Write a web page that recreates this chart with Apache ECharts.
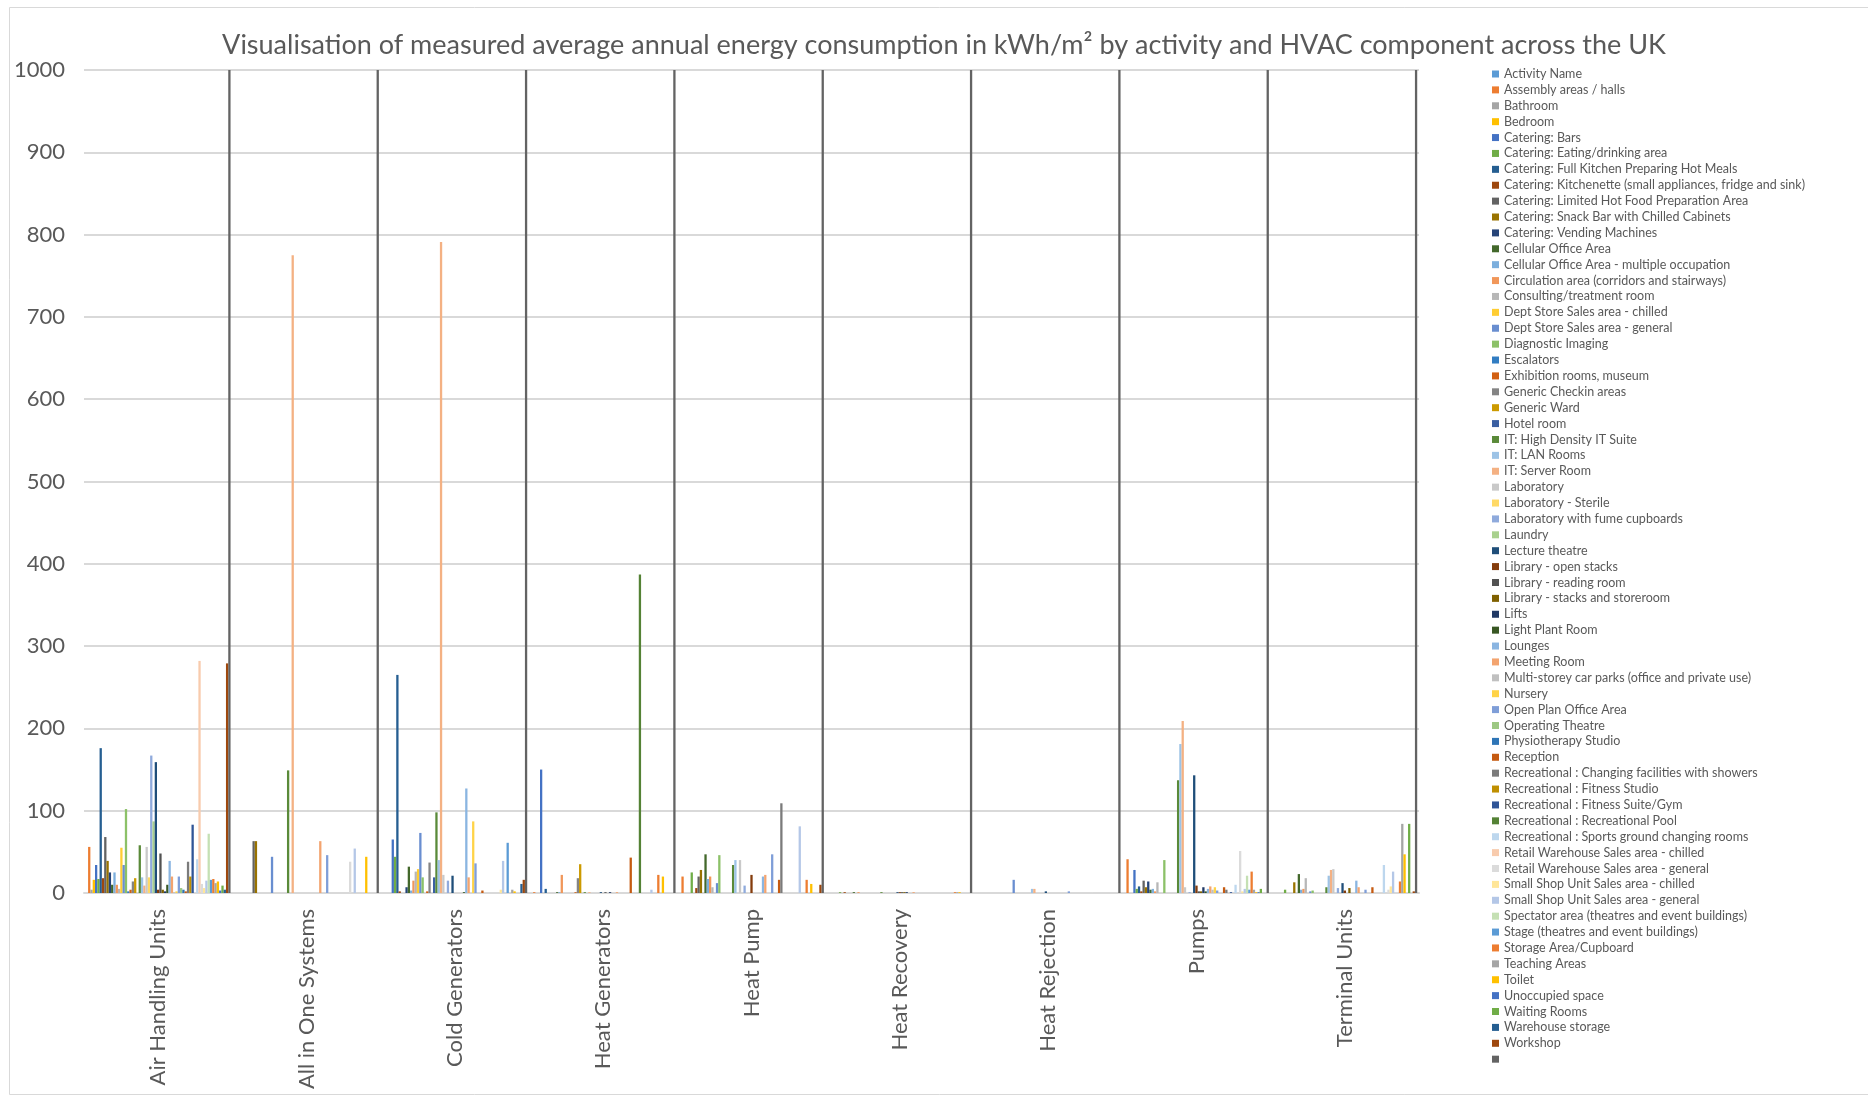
<!DOCTYPE html>
<html>
<head>
<meta charset="utf-8">
<script src="https://cdn.jsdelivr.net/npm/echarts@6/dist/echarts.min.js"></script>
<style>
  html, body { margin: 0; padding: 0; background: #fff; }
  #chart { width: 1868px; height: 1097px; }
</style>
</head>
<body>
<div id="chart"></div>
<script>
// HVAC components (x-axis categories)
const components = [
  'Air Handling Units', 'All in One Systems', 'Cold Generators', 'Heat Generators',
  'Heat Pump', 'Heat Recovery', 'Heat Rejection', 'Pumps', 'Terminal Units'
];

// Activity types (one bar series each); the last one has no name
const activities = [
  'Activity Name', 'Assembly areas / halls', 'Bathroom', 'Bedroom', 'Catering: Bars',
  'Catering: Eating/drinking area', 'Catering: Full Kitchen Preparing Hot Meals',
  'Catering: Kitchenette (small appliances, fridge and sink)',
  'Catering: Limited Hot Food Preparation Area', 'Catering: Snack Bar with Chilled Cabinets',
  'Catering: Vending Machines', 'Cellular Office Area', 'Cellular Office Area - multiple occupation',
  'Circulation area (corridors and stairways)', 'Consulting/treatment room',
  'Dept Store Sales area - chilled', 'Dept Store Sales area - general', 'Diagnostic Imaging',
  'Escalators', 'Exhibition rooms, museum', 'Generic Checkin areas', 'Generic Ward', 'Hotel room',
  'IT: High Density IT Suite', 'IT: LAN Rooms', 'IT: Server Room', 'Laboratory',
  'Laboratory - Sterile', 'Laboratory with fume cupboards', 'Laundry', 'Lecture theatre',
  'Library - open stacks', 'Library - reading room', 'Library - stacks and storeroom', 'Lifts',
  'Light Plant Room', 'Lounges', 'Meeting Room', 'Multi-storey car parks (office and private use)',
  'Nursery', 'Open Plan Office Area', 'Operating Theatre', 'Physiotherapy Studio', 'Reception',
  'Recreational : Changing facilities with showers', 'Recreational : Fitness Studio',
  'Recreational : Fitness Suite/Gym', 'Recreational : Recreational Pool',
  'Recreational : Sports ground changing rooms', 'Retail Warehouse Sales area - chilled',
  'Retail Warehouse Sales area - general', 'Small Shop Unit Sales area - chilled',
  'Small Shop Unit Sales area - general', 'Spectator area (theatres and event buildings)',
  'Stage (theatres and event buildings)', 'Storage Area/Cupboard', 'Teaching Areas', 'Toilet',
  'Unoccupied space', 'Waiting Rooms', 'Warehouse storage', 'Workshop', ' '
];

// Office-style series colour cycle (54 entries, then repeats)
const palette = [
  '#5B9BD5', '#ED7D31', '#A5A5A5', '#FFC000', '#4472C4', '#70AD47',
  '#255E91', '#9E480E', '#636363', '#997300', '#264478', '#43682B',
  '#7CAFDD', '#F1975A', '#B7B7B7', '#FFCD33', '#698ED0', '#8CC168',
  '#327DC2', '#D26012', '#848484', '#CC9A00', '#3A5FA2', '#5A8A39',
  '#9DC3E6', '#F4B183', '#C9C9C9', '#FFD966', '#8FAADC', '#A9D18E',
  '#1F4E79', '#843C0C', '#525252', '#7F6000', '#203864', '#385723',
  '#8AB5E1', '#F3A46F', '#C0C0C0', '#FFD347', '#7F9ED8', '#9DC883',
  '#2E75B6', '#C55A11', '#7B7B7B', '#BF8F00', '#2F5597', '#548235',
  '#BDD7EE', '#F8CBAD', '#DBDBDB', '#FFE699', '#B4C7E7', '#C5E0B4'
];

// kWh/m² per activity (index follows `activities`) for each component
const airHandlingUnits = [
  0, 56, 4, 16, 34, 17, 176, 18, 68, 39,
  25, 10, 25, 10, 5, 55, 34, 102, 2, 4,
  14, 18, 0, 58, 19, 9, 56, 19, 167, 87,
  159, 4, 48, 4, 2, 10, 39, 20, 1, 2,
  20, 6, 4, 2, 38, 20, 83, 0, 41, 282,
  11, 6, 15, 72, 16, 17, 12, 14, 3, 9,
  4, 279, 1000
];
const allInOneSystems = [
  0, 0, 0, 0, 0, 0, 0, 0, 63, 63,
  0, 0, 0, 0, 0, 0, 44, 0, 0, 0,
  0, 0, 0, 149, 0, 775, 0, 0, 0, 0,
  0, 0, 0, 0, 0, 0, 0, 63, 0, 0,
  46, 0, 0, 0, 0, 0, 0, 0, 0, 0,
  38, 0, 54, 0, 0, 0, 0, 44, 0, 0,
  0, 0, 1000
];
const coldGenerators = [
  0, 0, 0, 0, 65, 44, 265, 2, 0, 0,
  7, 32, 3, 15, 26, 29, 73, 19, 0, 2,
  37, 0, 19, 98, 40, 791, 22, 0, 15, 0,
  21, 0, 0, 0, 0, 1, 127, 19, 0, 87,
  36, 0, 0, 3, 0, 0, 0, 0, 0, 0,
  0, 4, 39, 0, 61, 0, 4, 2, 0, 0,
  11, 16, 1000
];
const heatGenerators = [
  0, 1, 0, 0, 150, 0, 5, 0, 0, 0,
  0, 1, 1, 22, 0, 0, 0, 0, 0, 1,
  18, 35, 0, 1, 0, 1, 0, 0, 0, 0,
  1, 0, 1, 0, 1, 0, 0, 1, 0, 0,
  0, 0, 0, 43, 0, 0, 0, 387, 0, 0,
  0, 0, 4, 0, 0, 22, 0, 20, 0, 0,
  0, 0, 1000
];
const heatPump = [
  0, 20, 0, 0, 0, 25, 0, 6, 20, 28,
  0, 47, 17, 20, 7, 0, 12, 46, 0, 0,
  0, 0, 0, 34, 40, 0, 40, 0, 9, 0,
  0, 22, 0, 0, 0, 0, 20, 22, 0, 0,
  47, 0, 0, 16, 109, 0, 0, 0, 0, 0,
  0, 0, 81, 0, 0, 16, 0, 11, 0, 0,
  0, 10, 1000
];
const heatRecovery = [
  0, 0, 0, 0, 0, 1, 0, 1, 0, 0,
  0, 1, 0, 1, 0, 0, 0, 0, 0, 0,
  0, 0, 0, 1, 0, 0, 0, 0, 0, 0,
  1, 1, 1, 1, 1, 0, 0, 1, 0, 0,
  0, 0, 0, 0, 0, 0, 0, 0, 0, 0,
  0, 0, 0, 0, 0, 1, 1, 1, 0, 0,
  0, 0, 1000
];
const heatRejection = [
  0, 0, 0, 0, 0, 0, 0, 0, 0, 0,
  0, 0, 0, 0, 0, 0, 16, 0, 0, 0,
  0, 0, 0, 0, 5, 5, 0, 0, 0, 0,
  2, 0, 0, 0, 0, 0, 0, 0, 0, 0,
  2, 0, 0, 0, 0, 0, 0, 0, 0, 0,
  1, 0, 0, 0, 0, 0, 0, 0, 0, 0,
  0, 0, 1000
];
const pumps = [
  0, 41, 0, 0, 28, 5, 8, 2, 15, 7,
  14, 4, 5, 2, 13, 0, 0, 40, 0, 0,
  0, 0, 0, 137, 181, 209, 7, 0, 1, 0,
  143, 9, 2, 2, 7, 2, 5, 8, 4, 7,
  3, 0, 0, 7, 4, 0, 1, 0, 10, 0,
  51, 2, 5, 21, 4, 26, 4, 1, 1, 5,
  0, 0, 1000
];
const terminalUnits = [
  0, 0, 0, 0, 0, 4, 0, 0, 0, 13,
  0, 23, 4, 5, 18, 0, 2, 3, 0, 0,
  0, 0, 0, 7, 21, 28, 29, 0, 6, 0,
  12, 3, 0, 6, 0, 0, 15, 7, 0, 0,
  4, 0, 0, 7, 0, 0, 0, 0, 34, 0,
  4, 8, 26, 0, 0, 14, 84, 47, 0, 84,
  0, 2, 1000
];

// y-axis tick values
const yTicks = { min: 0, max: 1000, step: 100 };

const byComponent = [
  airHandlingUnits, allInOneSystems, coldGenerators, heatGenerators,
  heatPump, heatRecovery, heatRejection, pumps, terminalUnits
];

const FONT = 'Lato';
const TEXT = '#595959';

const series = activities.map((name, i) => ({
  type: 'bar',
  name: name,
  data: byComponent.map(values => values[i]),
  itemStyle: { color: palette[i % palette.length] },
  barGap: '0%',
  barCategoryGap: '2.4%',
  silent: true
}));

const chart = echarts.init(document.getElementById('chart'), null, { renderer: 'canvas' });
chart.setOption({
  animation: false,
  backgroundColor: '#ffffff',
  textStyle: { fontFamily: FONT },
  graphic: [{
    type: 'rect',
    shape: { x: 9.5, y: 7.5, width: 1870, height: 1087 },
    style: { fill: 'none', stroke: '#D9D9D9', lineWidth: 1 },
    silent: true
  }],
  title: {
    text: 'Visualisation of measured average annual energy consumption in kWh/m² by activity and HVAC component across the UK',
    left: 939,
    top: 27,
    textAlign: 'center',
    textStyle: { fontFamily: FONT, fontSize: 27, fontWeight: 'normal', color: TEXT }
  },
  legend: {
    orient: 'vertical',
    left: 1487,
    top: 62,
    icon: 'rect',
    itemWidth: 7,
    itemHeight: 7,
    itemGap: 1.89,
    selectedMode: false,
    data: activities,
    textStyle: { fontFamily: FONT, fontSize: 12.5, color: TEXT, lineHeight: 14 }
  },
  grid: { left: 84, right: 449, top: 70, bottom: 204, containLabel: false },
  xAxis: {
    type: 'category',
    data: components,
    axisLine: { show: true, lineStyle: { color: '#D9D9D9', width: 2 } },
    axisTick: { show: false },
    axisLabel: { rotate: 90, margin: 16, fontFamily: FONT, fontSize: 22, color: TEXT, interval: 0 }
  },
  yAxis: {
    type: 'value',
    min: yTicks.min,
    max: yTicks.max,
    interval: yTicks.step,
    axisLine: { show: false },
    axisTick: { show: false },
    axisLabel: {
      margin: 19, fontFamily: FONT, fontSize: 22, color: TEXT,
      formatter: value => String(value)
    },
    splitLine: { lineStyle: { color: '#D9D9D9', width: 2 } }
  },
  series: series
});
</script>
</body>
</html>
